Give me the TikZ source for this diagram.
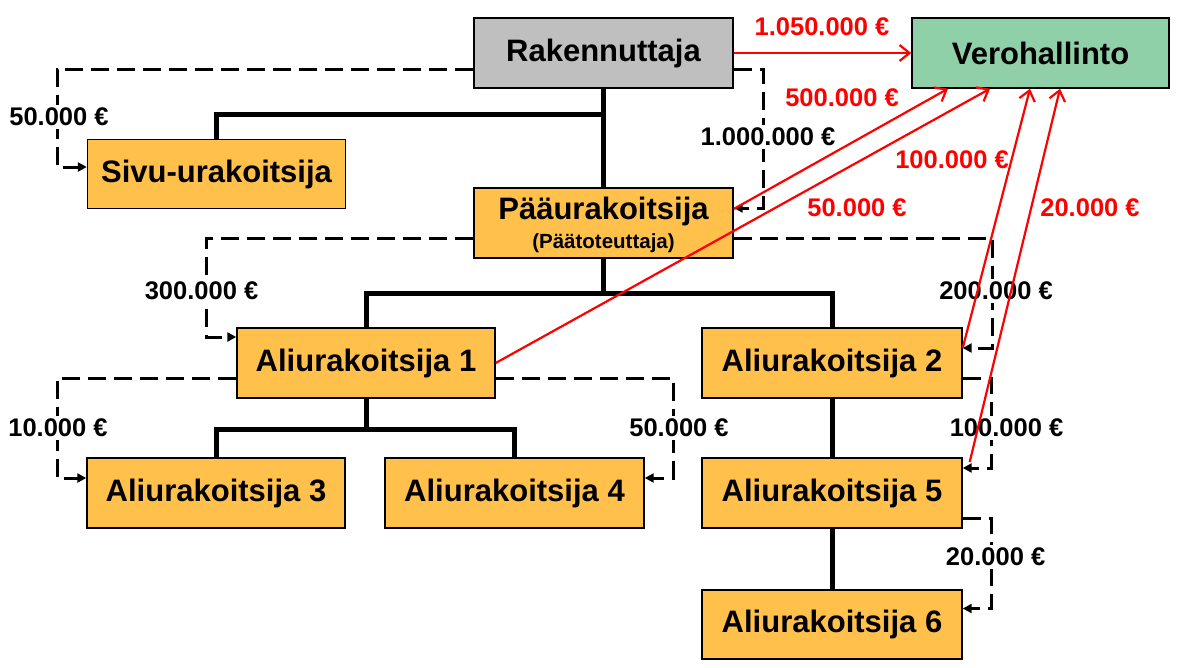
\documentclass[tikz,border=0pt]{standalone}
\usepackage{fontspec}
\setmainfont{Liberation Sans}
\usetikzlibrary{arrows.meta}
\definecolor{boxorange}{HTML}{FFC04C}
\definecolor{boxgrey}{HTML}{BFBFBF}
\definecolor{boxgreen}{HTML}{8FD0A8}
\definecolor{payred}{HTML}{FF0000}
\begin{document}
\begin{tikzpicture}[x=1pt,y=-1pt,
  box/.style={draw=black,line width=1.4pt,minimum width=258pt,minimum height=70pt,inner sep=0pt,
    font=\bfseries\fontsize{31}{34}\selectfont,fill=boxorange},
  boxtext/.style={inner sep=0pt,font=\bfseries\fontsize{31}{34}\selectfont},
  subtext/.style={inner sep=0pt,font=\bfseries\fontsize{20.5}{22}\selectfont},
  tree/.style={line width=5pt},
  dsh/.style={line width=3pt,dash pattern=on 18pt off 8pt,-{Triangle[length=9pt,width=9pt]}},
  amt/.style={font=\bfseries\fontsize{25.5}{28}\selectfont,fill=white,inner sep=3pt},
  ramt/.style={font=\bfseries\fontsize{25.5}{28}\selectfont,text=payred,inner sep=1pt},
  pay/.style={draw=payred,line width=2.2pt,-{Straight Barb[length=10pt,width=16pt]}}]
\useasboundingbox (0,0) rectangle (1193,667);

% boxes
\node[box,fill=boxgrey,minimum width=259pt] (rak) at (603.5,53) {Rakennuttaja};
\node[box,fill=boxgreen,minimum width=257pt] (vero) at (1040.5,53) {Verohallinto};
\node[box,minimum height=69pt] (sivu) at (216.5,174) {Sivu-urakoitsija};
\node[box,minimum width=259pt] (paa) at (603.5,223) {};
\node[boxtext] (paat) at (603.5,211) {Pääurakoitsija};
\node[subtext] (paas) at (603.5,243) {(Päätoteuttaja)};
\node[box] (a1) at (366,363) {Aliurakoitsija 1};
\node[box,minimum width=260pt] (a2) at (832,363) {Aliurakoitsija 2};
\node[box] (a3) at (216,493) {Aliurakoitsija 3};
\node[box,minimum width=259pt] (a4) at (514.5,493) {Aliurakoitsija 4};
\node[box,minimum width=260pt] (a5) at (832,493) {Aliurakoitsija 5};
\node[box,minimum width=260pt,minimum height=69pt] (a6) at (832,624.5) {Aliurakoitsija 6};

% tree
\coordinate (j0) at (603.5,114);
\coordinate (j1) at (603.5,293);
\coordinate (j2) at (366,429);
\draw[tree] (rak.south) -- (paa.north);
\draw[tree] (j0) -| (sivu.north);
\draw[tree] (paa.south) -- (j1);
\draw[tree] (a1.north) |- (j1) -| (a2.north);
\draw[tree] (a1.south) -- (j2);
\draw[tree] (a3.north) |- (j2) -| (a4.north);
\draw[tree] (a2.south) -- (a5.north);
\draw[tree] (a5.south) -- (a6.north);

% dashed payments
\draw[dsh] ([yshift=-16pt]rak.west) -| (57,117) |- ([yshift=7pt]sivu.west);
\draw[dsh] ([yshift=-16pt]rak.east) -| (763,137) |- ([yshift=15pt]paa.east);
\draw[dsh] ([yshift=-15pt]paa.west) -| (206,291) |- ([yshift=26pt]a1.west);
\draw[dsh] ([yshift=-15pt]paa.east) -| (992,291) |- ([yshift=15pt]a2.east);
\draw[dsh] ([yshift=-15pt]a1.west) -| (57,428) |- ([yshift=15pt]a3.west);
\draw[dsh] ([yshift=-15pt]a1.east) -| (673,428) |- ([yshift=15pt]a4.east);
\draw[dsh] ([yshift=-15pt]a2.east) -| (991,428) |- ([yshift=25pt]a5.east);
\draw[dsh] ([yshift=-25pt]a5.east) -| (991,556) |- ([yshift=16pt]a6.east);

\node[amt] (l1) at (59,117) {50.000 €};
\node[amt] (l2) at (768,137) {1.000.000 €};
\node[amt] (l3) at (201.5,291) {300.000 €};
\node[amt] (l4) at (996,291) {200.000 €};
\node[amt] (l5) at (58,428) {10.000 €};
\node[amt] (l6) at (679,428) {50.000 €};
\node[amt] (l7) at (1006.5,428) {100.000 €};
\node[amt] (l8) at (995.6,557) {20.000 €};

% red tax flows
\draw[pay] (rak.east) -- (vero.west);
\draw[pay] ([yshift=14pt]paa.east) -- ([xshift=-92.5pt]vero.south);
\draw[pay] (a1.east) -- ([xshift=-50.5pt]vero.south);
\draw[pay] ([yshift=15pt]a2.east) -- ([xshift=-10.5pt]vero.south);
\draw[pay] ([xshift=7pt,yshift=31pt]a5.east) -- ([xshift=19.5pt]vero.south);

\node[ramt] (r1) at (822,27) {1.050.000 €};
\node[ramt] (r2) at (842,98) {500.000 €};
\node[ramt] (r3) at (952,160) {100.000 €};
\node[ramt] (r4) at (857,208) {50.000 €};
\node[ramt] (r5) at (1090,208) {20.000 €};
\end{tikzpicture}
\end{document}
